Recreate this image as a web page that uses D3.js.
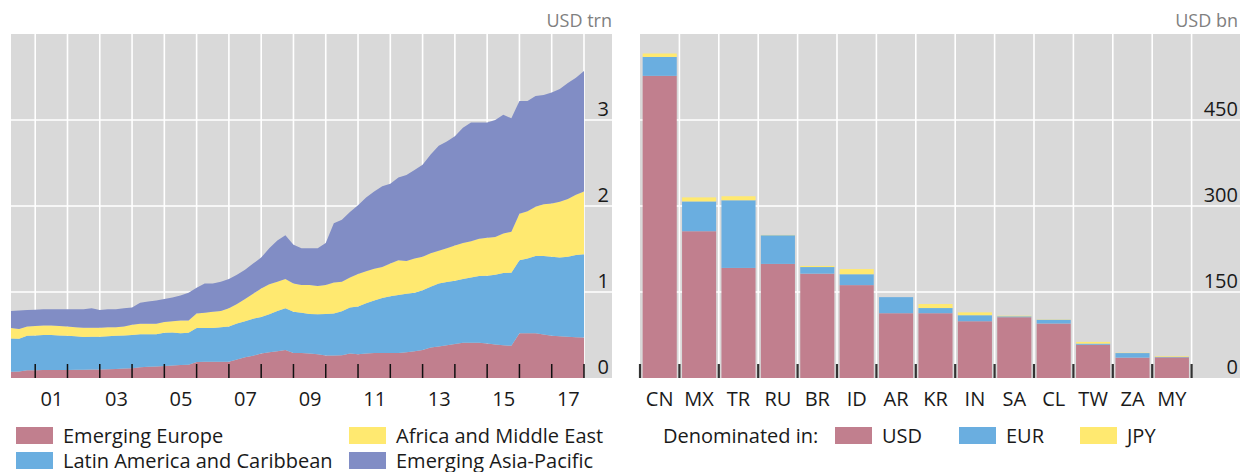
<!DOCTYPE html>
<html>
<head>
<meta charset="utf-8">
<script src="https://cdn.jsdelivr.net/npm/d3@7"></script>
<style>
  html, body { margin: 0; padding: 0; background: #fff; }
  svg { display: block; font-family: "Open Sans", "Noto Sans", sans-serif; }
</style>
</head>
<body>
<svg id="chart" width="1240" height="472"></svg>
<script>
// ---- Left panel: outstanding debt by region, USD trn, quarterly 2000Q1–2017Q4
const regionNames = ["Emerging Europe", "Latin America and Caribbean", "Africa and Middle East", "Emerging Asia-Pacific"];
const regionKeys = ["ee", "la", "ame", "eap"];
const regionColors = ["#c17f8e", "#6aaee0", "#ffe970", "#818dc5"];

const emergingEurope = [
  0.073, 0.075, 0.09, 0.09, 0.092, 0.093, 0.093, 0.093, 0.095, 0.097, 0.10, 0.10,
  0.103, 0.105, 0.11, 0.112, 0.125, 0.13, 0.135, 0.14, 0.145, 0.15, 0.155, 0.185,
  0.19, 0.19, 0.19, 0.19, 0.215, 0.24, 0.26, 0.285, 0.30, 0.31, 0.325, 0.29,
  0.29, 0.285, 0.275, 0.262, 0.262, 0.265, 0.285, 0.275, 0.285, 0.29, 0.29, 0.29,
  0.29, 0.30, 0.31, 0.325, 0.355, 0.365, 0.38, 0.395, 0.41, 0.41, 0.41, 0.40,
  0.39, 0.38, 0.375, 0.52, 0.52, 0.52, 0.505, 0.49, 0.485, 0.48, 0.475, 0.47
];
const latinAmerica = [
  0.387, 0.38, 0.40, 0.405, 0.408, 0.407, 0.402, 0.397, 0.39, 0.381, 0.38, 0.38,
  0.382, 0.385, 0.385, 0.388, 0.385, 0.38, 0.375, 0.385, 0.385, 0.37, 0.37, 0.395,
  0.39, 0.39, 0.40, 0.41, 0.42, 0.42, 0.43, 0.425, 0.44, 0.47, 0.485, 0.48,
  0.47, 0.46, 0.465, 0.483, 0.488, 0.51, 0.535, 0.555, 0.585, 0.61, 0.64, 0.66,
  0.675, 0.68, 0.68, 0.695, 0.705, 0.735, 0.735, 0.735, 0.74, 0.76, 0.775, 0.79,
  0.81, 0.84, 0.85, 0.85, 0.87, 0.90, 0.915, 0.92, 0.915, 0.93, 0.955, 0.97
];
const africaMiddleEast = [
  0.12, 0.115, 0.11, 0.11, 0.11, 0.11, 0.11, 0.11, 0.105, 0.107, 0.105, 0.105,
  0.105, 0.10, 0.105, 0.12, 0.12, 0.12, 0.12, 0.125, 0.13, 0.15, 0.145, 0.17,
  0.18, 0.19, 0.19, 0.21, 0.225, 0.26, 0.29, 0.33, 0.35, 0.34, 0.34, 0.33,
  0.32, 0.335, 0.33, 0.335, 0.36, 0.345, 0.35, 0.38, 0.37, 0.37, 0.36, 0.38,
  0.405, 0.38, 0.40, 0.39, 0.39, 0.38, 0.395, 0.41, 0.42, 0.42, 0.435, 0.44,
  0.44, 0.46, 0.475, 0.54, 0.55, 0.57, 0.60, 0.62, 0.65, 0.67, 0.70, 0.73
];
const emergingAsia = [
  0.20, 0.215, 0.19, 0.19, 0.19, 0.19, 0.195, 0.20, 0.21, 0.215, 0.225, 0.205,
  0.21, 0.21, 0.21, 0.20, 0.245, 0.26, 0.27, 0.27, 0.275, 0.29, 0.32, 0.30,
  0.34, 0.33, 0.34, 0.34, 0.34, 0.34, 0.35, 0.36, 0.42, 0.48, 0.51, 0.45,
  0.43, 0.43, 0.44, 0.49, 0.69, 0.72, 0.76, 0.80, 0.86, 0.90, 0.94, 0.93,
  0.96, 1.00, 1.03, 1.07, 1.15, 1.22, 1.24, 1.27, 1.34, 1.38, 1.35, 1.34,
  1.36, 1.38, 1.32, 1.31, 1.28, 1.29, 1.27, 1.29, 1.31, 1.35, 1.36, 1.40
];
const firstQuarterEnd = 2000.25;   // end of 2000Q1, in fractional years
const leftYTicks = [0, 1, 2, 3];
const leftXLabelYears = [2001, 2003, 2005, 2007, 2009, 2011, 2013, 2015, 2017];
const leftUnit = "USD trn";

// ---- Right panel: debt by borrower country and currency, USD bn
const countries = ["CN", "MX", "TR", "RU", "BR", "ID", "AR", "KR", "IN", "SA", "CL", "TW", "ZA", "MY"];
const usdValues = [527, 256, 192, 199, 182, 162, 113, 113, 99, 106, 95, 58, 35.5, 36];
const eurValues = [33, 52, 118, 50, 11.5, 19, 28, 9, 10.5, 1.6, 6.5, 2, 8, 1];
const jpyValues = [6, 7, 7, 0.5, 2, 9, 0, 7, 5, 1, 0.5, 3, 0.5, 1.2];
const currencyNames = ["USD", "EUR", "JPY"];
const currencyColors = ["#c17f8e", "#6aaee0", "#ffe970"];
const rightYTicks = [0, 150, 300, 450];
const rightUnit = "USD bn";

// ---- shared styling
const panelGray = "#d9d9d9";
const textColor = "#1a1a1a";
const unitColor = "#808080";
const fontSize = 20;
const fontStack = "'Open Sans', 'Noto Sans', sans-serif";

const svg = d3.select("#chart");

// ======================= LEFT PANEL =======================
const L = { x0: 11, x1: 612, top: 34, bottom: 378, dataRight: 584 };

const quarterTimes = emergingEurope.map((_, i) => firstQuarterEnd + i * 0.25);
const regionRows = quarterTimes.map((t, i) => ({
  t,
  ee: emergingEurope[i],
  la: latinAmerica[i],
  ame: africaMiddleEast[i],
  eap: emergingAsia[i]
}));

const xL = d3.scaleLinear()
  .domain([firstQuarterEnd, quarterTimes[quarterTimes.length - 1]])
  .range([L.x0, L.dataRight]);
const yL = d3.scaleLinear().domain([0, 4]).range([L.bottom, L.top]);

const gL = svg.append("g");
gL.append("rect")
  .attr("x", L.x0).attr("y", L.top)
  .attr("width", L.x1 - L.x0).attr("height", L.bottom - L.top)
  .attr("fill", panelGray);

// year gridlines
const yearBoundaries = d3.range(2001, 2019);
gL.append("g").selectAll("line").data(yearBoundaries).join("line")
  .attr("x1", d => xL(d)).attr("x2", d => xL(d))
  .attr("y1", L.top).attr("y2", L.bottom)
  .attr("stroke", "#fff").attr("stroke-width", 1.6);
// value gridlines
gL.append("g").selectAll("line").data([1, 2, 3]).join("line")
  .attr("x1", L.x0).attr("x2", L.x1)
  .attr("y1", d => yL(d)).attr("y2", d => yL(d))
  .attr("stroke", "#fff").attr("stroke-width", 1.6);

const stackL = d3.stack().keys(regionKeys)(regionRows);
const areaL = d3.area()
  .x(d => xL(d.data.t))
  .y0(d => yL(d[0]))
  .y1(d => yL(d[1]));
gL.append("g").selectAll("path").data(stackL).join("path")
  .attr("d", areaL)
  .attr("fill", (d, i) => regionColors[i]);

// year tick marks along the base
gL.append("g").selectAll("line").data(yearBoundaries).join("line")
  .attr("x1", d => xL(d)).attr("x2", d => xL(d))
  .attr("y1", L.bottom - 14).attr("y2", L.bottom)
  .attr("stroke", "#111").attr("stroke-width", 1.5);

// y axis labels (right side, inside panel)
const yAxisL = d3.axisLeft(yL).tickValues(leftYTicks).tickSize(0).tickPadding(0).tickFormat(d3.format("d"));
const yAxisLG = gL.append("g").attr("transform", `translate(${L.x1 - 3},0)`).call(yAxisL);
yAxisLG.select(".domain").remove();
yAxisLG.selectAll("text")
  .attr("dy", null).attr("y", -5)
  .attr("fill", textColor).style("font-size", fontSize + "px").style("font-family", fontStack);

// x axis labels, centred in odd years
const xAxisL = d3.axisBottom(xL)
  .tickValues(leftXLabelYears.map(y => y + 0.5))
  .tickSize(0).tickPadding(0)
  .tickFormat(d => String(Math.floor(d) % 100).padStart(2, "0"));
const xAxisLG = gL.append("g").attr("transform", `translate(0,${L.bottom})`).call(xAxisL);
xAxisLG.select(".domain").remove();
xAxisLG.selectAll("text")
  .attr("dy", null).attr("y", 28)
  .attr("fill", textColor).style("font-size", fontSize + "px").style("font-family", fontStack);

gL.append("text")
  .attr("x", L.x1).attr("y", 27).attr("text-anchor", "end")
  .attr("fill", unitColor).style("font-size", "18px")
  .text(leftUnit);

// ======================= RIGHT PANEL =======================
const R = { x0: 640, x1: 1240, top: 34, bottom: 378, barsRight: 1191.6 };

const currencyRows = countries.map((c, i) => ({
  c, USD: usdValues[i], EUR: eurValues[i], JPY: jpyValues[i]
}));

const xR = d3.scaleBand().domain(countries).range([R.x0, R.barsRight]).paddingInner(0.135).paddingOuter(0.0675);
const yR = d3.scaleLinear().domain([0, 600]).range([R.bottom, R.top]);

const gR = svg.append("g");
gR.append("rect")
  .attr("x", R.x0).attr("y", R.top)
  .attr("width", R.x1 - R.x0).attr("height", R.bottom - R.top)
  .attr("fill", panelGray);

const bandEdges = countries.map(c => xR(c) - xR.step() * xR.paddingInner() / 2).concat([R.barsRight]);
gR.append("g").selectAll("line").data(bandEdges.slice(1)).join("line")
  .attr("x1", d => d).attr("x2", d => d)
  .attr("y1", R.top).attr("y2", R.bottom)
  .attr("stroke", "#fff").attr("stroke-width", 1.6);
gR.append("g").selectAll("line").data([150, 300, 450]).join("line")
  .attr("x1", R.x0).attr("x2", R.x1)
  .attr("y1", d => yR(d)).attr("y2", d => yR(d))
  .attr("stroke", "#fff").attr("stroke-width", 1.6);

const stackR = d3.stack().keys(currencyNames)(currencyRows);
gR.append("g").selectAll("g").data(stackR).join("g")
  .attr("fill", (d, i) => currencyColors[i])
  .selectAll("rect").data(d => d).join("rect")
  .attr("x", d => xR(d.data.c))
  .attr("width", xR.bandwidth())
  .attr("y", d => yR(d[1]))
  .attr("height", d => yR(d[0]) - yR(d[1]));

gR.append("g").selectAll("line").data(bandEdges).join("line")
  .attr("x1", d => d).attr("x2", d => d)
  .attr("y1", R.bottom - 14).attr("y2", R.bottom)
  .attr("stroke", "#333").attr("stroke-width", 2.2);

const yAxisR = d3.axisLeft(yR).tickValues(rightYTicks).tickSize(0).tickPadding(0).tickFormat(d3.format("d"));
const yAxisRG = gR.append("g").attr("transform", `translate(${R.x1 - 2},0)`).call(yAxisR);
yAxisRG.select(".domain").remove();
yAxisRG.selectAll("text")
  .attr("dy", null).attr("y", -5)
  .attr("fill", textColor).style("font-size", fontSize + "px").style("font-family", fontStack);

const xAxisR = d3.axisBottom(xR).tickSize(0).tickPadding(0);
const xAxisRG = gR.append("g").attr("transform", `translate(0,${R.bottom})`).call(xAxisR);
xAxisRG.select(".domain").remove();
xAxisRG.selectAll("text")
  .attr("dy", null).attr("y", 28)
  .attr("fill", textColor).style("font-size", fontSize + "px").style("font-family", fontStack);

gR.append("text")
  .attr("x", R.x1 - 2).attr("y", 27).attr("text-anchor", "end")
  .attr("fill", unitColor).style("font-size", "18px")
  .text(rightUnit);

// ======================= LEGENDS =======================
const legendRowY = [427, 452];
const swatchW = 37, swatchH = 17;

const leftLegend = [
  { i: 0, x: 16, row: 0 },
  { i: 1, x: 16, row: 1 },
  { i: 2, x: 349, row: 0 },
  { i: 3, x: 349, row: 1 }
];
const lg = svg.append("g");
leftLegend.forEach(d => {
  lg.append("rect")
    .attr("x", d.x).attr("y", legendRowY[d.row])
    .attr("width", swatchW).attr("height", swatchH)
    .attr("fill", regionColors[d.i]);
  lg.append("text")
    .attr("x", d.x + 47).attr("y", legendRowY[d.row] + 16)
    .attr("fill", textColor).style("font-size", fontSize + "px")
    .text(regionNames[d.i]);
});

const rg = svg.append("g");
rg.append("text")
  .attr("x", 663).attr("y", legendRowY[0] + 16)
  .attr("fill", textColor).style("font-size", fontSize + "px")
  .text("Denominated in:");
const currencyLegendX = [835, 959, 1080];
currencyNames.forEach((name, i) => {
  rg.append("rect")
    .attr("x", currencyLegendX[i]).attr("y", legendRowY[0])
    .attr("width", swatchW).attr("height", swatchH)
    .attr("fill", currencyColors[i]);
  rg.append("text")
    .attr("x", currencyLegendX[i] + 47).attr("y", legendRowY[0] + 16)
    .attr("fill", textColor).style("font-size", fontSize + "px")
    .text(name);
});
</script>
</body>
</html>
